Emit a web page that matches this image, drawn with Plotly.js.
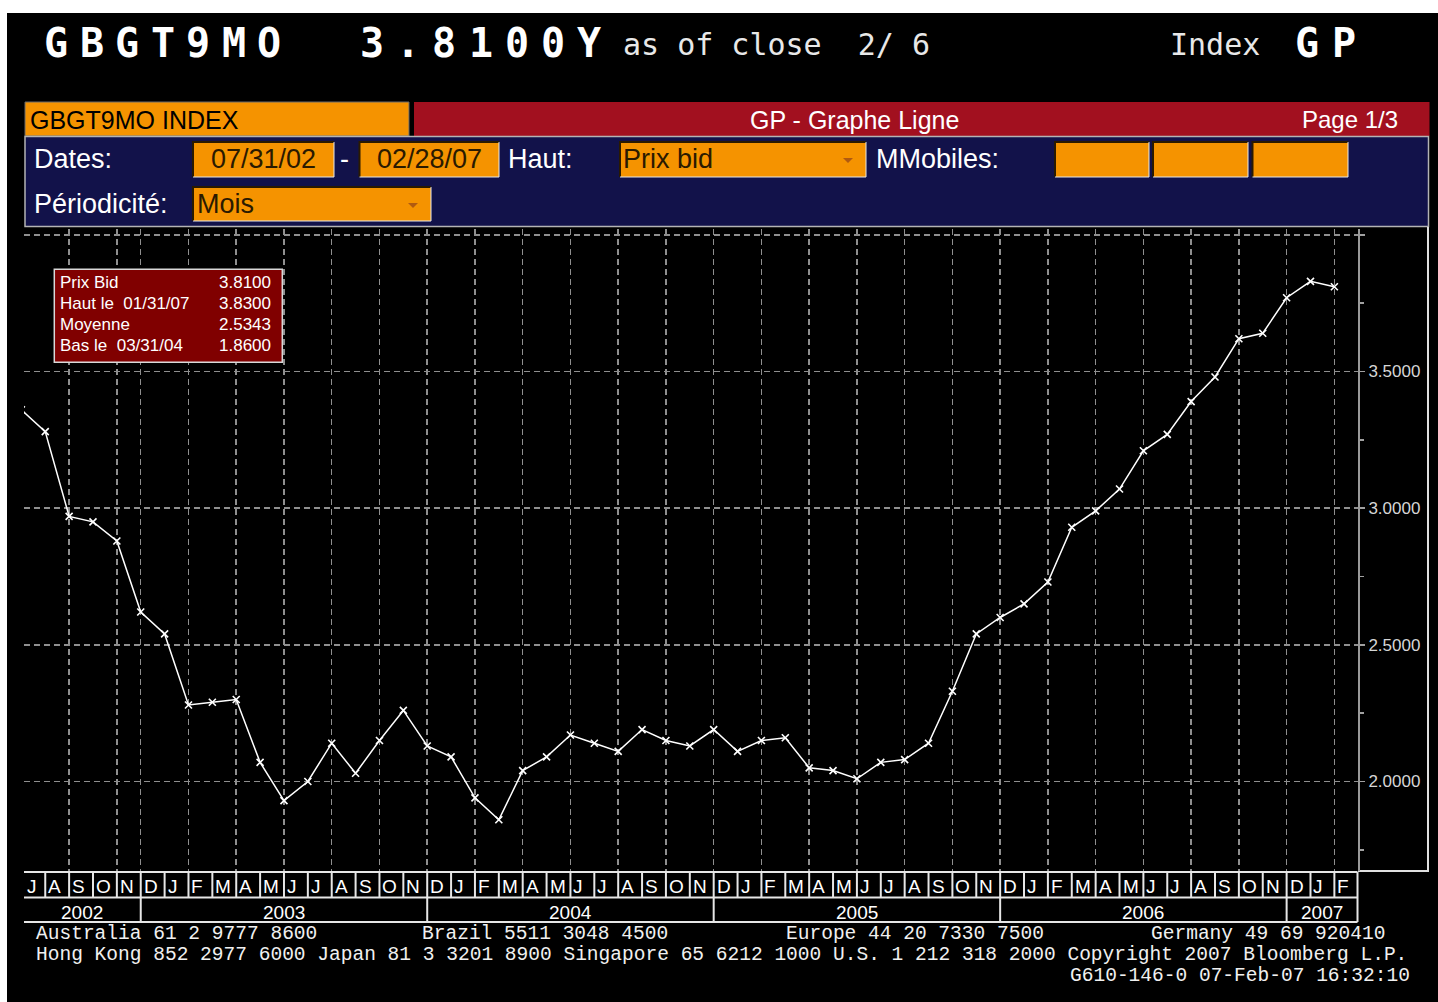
<!DOCTYPE html>
<html><head><meta charset="utf-8">
<script src="https://cdn.plot.ly/plotly-3.0.1.min.js"></script>
<style>
html,body{margin:0;padding:0;background:#fff;overflow:hidden;}
#chart{width:1438px;height:1002px;}
</style>
</head><body><div id="chart"></div>
<script>
// ---------- DATA ----------
const months = [
 '2002-07','2002-08','2002-09','2002-10','2002-11','2002-12',
 '2003-01','2003-02','2003-03','2003-04','2003-05','2003-06','2003-07','2003-08','2003-09','2003-10','2003-11','2003-12',
 '2004-01','2004-02','2004-03','2004-04','2004-05','2004-06','2004-07','2004-08','2004-09','2004-10','2004-11','2004-12',
 '2005-01','2005-02','2005-03','2005-04','2005-05','2005-06','2005-07','2005-08','2005-09','2005-10','2005-11','2005-12',
 '2006-01','2006-02','2006-03','2006-04','2006-05','2006-06','2006-07','2006-08','2006-09','2006-10','2006-11','2006-12',
 '2007-01','2007-02'];
const bidValues = [
 3.36,3.28,2.97,2.95,2.88,2.62,
 2.54,2.28,2.29,2.30,2.07,1.93,2.00,2.14,2.03,2.15,2.26,2.13,
 2.09,1.94,1.86,2.04,2.09,2.17,2.14,2.11,2.19,2.15,2.13,2.19,
 2.11,2.15,2.16,2.05,2.04,2.01,2.07,2.08,2.14,2.33,2.54,2.60,
 2.65,2.73,2.93,2.99,3.07,3.21,3.27,3.39,3.48,3.62,3.64,3.77,
 3.83,3.81];
const monthInitials = ['J','F','M','A','M','J','J','A','S','O','N','D'];
const yTickVals = [2.0, 2.5, 3.0, 3.5, 4.0];
const yTickText = ['2.0000','2.5000','3.0000','3.5000',''];
const tickerText = 'GBGT9MO';
const lastText = '3.8100Y';
const closeText = 'as of close  2/ 6';
const statLabels = ['Prix Bid','Haut le  01/31/07','Moyenne','Bas le  03/31/04'];
const statValues = ['3.8100','3.8300','2.5343','1.8600'];
const footerRow1 = ['Australia 61 2 9777 8600','Brazil 5511 3048 4500','Europe 44 20 7330 7500','Germany 49 69 920410'];
const footerRow2 = 'Hong Kong 852 2977 6000 Japan 81 3 3201 8900 Singapore 65 6212 1000 U.S. 1 212 318 2000 Copyright 2007 Bloomberg L.P.';
const footerRow3 = 'G610-146-0 07-Feb-07 16:32:10';

// ---------- GEOMETRY HELPERS ----------
const PL=24, PR=1358, PT=229, PB=871;
const px = x => (x-PL)/(PR-PL);
const py = y => (PB-y)/(PB-PT);
const X0 = 0.11, X1 = 55.99;
const Y0 = 1.6725, Y1 = 4.0214;
const nb = s => s.replace(/ /g,'\u00a0');

const idx = months.map((m,i)=>i);
const shapes = [];
const ann = [];
function txt(text, x, y, anchor, font, extra){
  const a = {text:text, x:px(x), y:py(y), xref:'paper', yref:'paper', xanchor:anchor, yanchor:'middle', showarrow:false, font:font};
  return Object.assign(a, extra||{});
}

// title row: wide pixel-style lettering, one glyph per fixed pitch
const titleFont = {family:'DejaVu Sans Mono', size:40, color:'#ffffff', weight:'bold'};
function spaced(str, cx0, pitch, y){
  str.split('').forEach((ch,k)=>{ ann.push(txt(ch, cx0 + k*pitch, y, 'center', titleFont)); });
}
spaced(tickerText, 56, 35.5, 43);
spaced(lastText, 372, 36.2, 43);
spaced('GP', 1307, 37, 43);
const thinFont = {family:'DejaVu Sans Mono', size:30, color:'#e8e8e8'};
ann.push(txt(nb(closeText), 621, 44, 'left', thinFont));
ann.push(txt('Index', 1168, 44, 'left', thinFont));

// page background
shapes.push({type:'rect', xref:'paper', yref:'paper', x0:px(7), x1:px(1438), y0:py(13), y1:py(1002), fillcolor:'#000000', line:{width:0}, layer:'below'});

// header bar
shapes.push({type:'rect', xref:'paper', yref:'paper', x0:px(25), x1:px(409), y0:py(102), y1:py(136), fillcolor:'#f59300', line:{color:'#6a6a6a', width:1}, layer:'below'});
shapes.push({type:'rect', xref:'paper', yref:'paper', x0:px(414), x1:px(1429.5), y0:py(102), y1:py(136), fillcolor:'#a2101f', line:{width:0}, layer:'below'});
ann.push(txt('GBGT9MO INDEX', 28, 119.5, 'left', {family:'Liberation Sans', size:25, color:'#000000'}));
ann.push(txt('GP - Graphe Ligne', 854.5, 119.5, 'center', {family:'Liberation Sans', size:25, color:'#ffffff'}));
ann.push(txt('Page 1/3', 1400, 119.5, 'right', {family:'Liberation Sans', size:24, color:'#ffffff'}));

// navy options panel
shapes.push({type:'rect', xref:'paper', yref:'paper', x0:px(25), x1:px(1428.5), y0:py(136.5), y1:py(226.5), fillcolor:'#12124a', line:{color:'#b4b4b4', width:1.5}, layer:'below'});
const boxes = [[193,334,142,177],[359.5,499,142,177],[620,866,142,177],[1055,1149,142,177],[1153,1248,142,177],[1252.5,1348,142,177],[193,431,187,221]];
boxes.forEach(b=>{
  shapes.push({type:'rect', xref:'paper', yref:'paper', x0:px(b[0]), x1:px(b[1]), y0:py(b[2]), y1:py(b[3]), fillcolor:'#f59300', line:{width:0}, layer:'below'});
  shapes.push({type:'path', xref:'paper', yref:'paper', path:`M ${px(b[0])} ${py(b[3])} L ${px(b[0])} ${py(b[2])} L ${px(b[1])} ${py(b[2])}`, line:{color:'#2a1a00', width:2}, layer:'below'});
  shapes.push({type:'path', xref:'paper', yref:'paper', path:`M ${px(b[0])} ${py(b[3])} L ${px(b[1])} ${py(b[3])} L ${px(b[1])} ${py(b[2])}`, line:{color:'#e8e8e8', width:1}, layer:'below'});
});
[[848,160],[413,205]].forEach(a=>{
  shapes.push({type:'path', xref:'paper', yref:'paper', path:`M ${px(a[0]-5)} ${py(a[1]-2)} L ${px(a[0]+5)} ${py(a[1]-2)} L ${px(a[0])} ${py(a[1]+3)} Z`, fillcolor:'#b05a10', line:{width:0}, layer:'below'});
});
const lblFont = {family:'Liberation Sans', size:27, color:'#ffffff'};
const boxFont = {family:'Liberation Sans', size:27, color:'#2a1a00'};
ann.push(txt('Dates:', 32, 159, 'left', lblFont));
ann.push(txt('07/31/02', 263.5, 159, 'center', boxFont));
ann.push(txt('-', 344, 159, 'center', lblFont));
ann.push(txt('02/28/07', 429, 159, 'center', boxFont));
ann.push(txt('Haut:', 506, 159, 'left', lblFont));
ann.push(txt('Prix bid', 621, 159, 'left', boxFont));
ann.push(txt('MMobiles:', 874, 159, 'left', lblFont));
ann.push(txt('Périodicité:', 32, 204, 'left', lblFont));
ann.push(txt('Mois', 195, 204, 'left', boxFont));

// right panel frame
shapes.push({type:'path', xref:'paper', yref:'paper', path:`M ${px(1358)} ${py(871)} L ${px(1428)} ${py(871)} L ${px(1428)} ${py(227)}`, line:{color:'#e0e0e0', width:2}, layer:'below'});

// stats box
shapes.push({type:'rect', xref:'paper', yref:'paper', x0:px(54.3), x1:px(282.3), y0:py(269.3), y1:py(362.3), fillcolor:'#800000', line:{color:'#d8d8d8', width:1.5}, layer:'above'});
const statY = [282.7, 303.3, 324.5, 345.3];
const statFont = {family:'Liberation Sans', size:17, color:'#ffffff'};
statLabels.forEach((s,i)=>{
  ann.push(txt(nb(s), 58, statY[i], 'left', statFont));
  ann.push(txt(statValues[i], 273, statY[i], 'right', statFont));
});

// month / year label rows
const rowCol = '#e6e6e6';
[872, 897.5, 922].forEach(yy=>{
  shapes.push({type:'line', xref:'paper', yref:'paper', x0:px(24), x1:px(1357.5), y0:py(yy), y1:py(yy), line:{color:rowCol, width:2}, layer:'below'});
});
shapes.push({type:'line', xref:'paper', yref:'paper', x0:px(1357.5), x1:px(1357.5), y0:py(872), y1:py(922), line:{color:rowCol, width:2}, layer:'below'});
const mFont = {family:'Liberation Sans', size:19, color:'#ffffff'};
months.forEach((m,i)=>{
  const mo = parseInt(m.slice(5),10);
  if(i>0) shapes.push({type:'line', xref:'x', yref:'paper', x0:i, x1:i, y0:py(872), y1:py(897.5), line:{color:rowCol, width:2}, layer:'below'});
  ann.push({text:monthInitials[mo-1], x:Math.max(i,X0), y:py(886.5), xref:'x', yref:'paper', xanchor:'left', yanchor:'middle', xshift:1, showarrow:false, font:mFont});
});
const years = [...new Set(months.map(m=>m.slice(0,4)))];
years.forEach(y=>{
  const prevDec = months.indexOf((parseInt(y)-1)+'-12');
  const thisDec = months.indexOf(y+'-12');
  const s = prevDec>=0 ? prevDec : X0;
  const e = thisDec>=0 ? thisDec : X1;
  if(thisDec>=0) shapes.push({type:'line', xref:'x', yref:'paper', x0:thisDec, x1:thisDec, y0:py(897.5), y1:py(922), line:{color:rowCol, width:2}, layer:'below'});
  ann.push({text:y, x:(s+e)/2, y:py(912), xref:'x', yref:'paper', xanchor:'center', yanchor:'middle', showarrow:false, font:mFont});
});

// footer
const footFont = {family:'Liberation Mono', size:19.55, color:'#f0f0f0'};
[34,420,784,1149].forEach((xx,i)=>{ ann.push(txt(nb(footerRow1[i]), xx, 933.5, 'left', footFont)); });
ann.push(txt(nb(footerRow2), 34, 954.5, 'left', footFont));
ann.push(txt(nb(footerRow3), 1067.5, 976, 'left', footFont));

// ---------- TRACE ----------
const trace = {
  type:'scatter', mode:'lines+markers', x: idx, y: bidValues,
  line:{color:'#ffffff', width:1.5},
  marker:{symbol:'x-thin-open', size:7, line:{color:'#ffffff', width:1.6}, color:'#ffffff'},
  hoverinfo:'skip', cliponaxis:true
};
const gridVals = [2,4,5,7,9,11,13,15,17,19,21,23,25,27,29,31,33,35,37,39,41,43,45,47,49,51,53,55];

const layout = {
  width:1438, height:1002,
  margin:{l:PL, r:1438-PR, t:PT, b:1002-PB, pad:0},
  paper_bgcolor:'#ffffff', plot_bgcolor:'#00003f',
  showlegend:false,
  xaxis:{range:[X0,X1], tickmode:'array', tickvals:gridVals, showticklabels:false, ticks:'',
         showgrid:true, gridcolor:'#8f8f8f', gridwidth:1.5, griddash:'6px,4px', zeroline:false, showline:false, fixedrange:true},
  yaxis:{range:[Y0,Y1], side:'right', tickmode:'array', tickvals:yTickVals, ticktext:yTickText,
         ticks:'outside', ticklen:5, tickwidth:1.5, tickcolor:'#a0a0a0',
         tickfont:{family:'Liberation Sans', size:17, color:'#d6d6d6'},
         showgrid:true, gridcolor:'#8f8f8f', gridwidth:1.5, griddash:'6px,4px', zeroline:false,
         showline:true, linecolor:'#9a9a9a', linewidth:2,
         minor:{tick0:0, dtick:0.25, ticks:'outside', ticklen:4, tickcolor:'#a0a0a0', tickwidth:1.5, showgrid:false},
         fixedrange:true},
  shapes:shapes, annotations:ann
};
Plotly.newPlot('chart',[trace],layout,{displayModeBar:false, staticPlot:true});
</script>
</body></html>
